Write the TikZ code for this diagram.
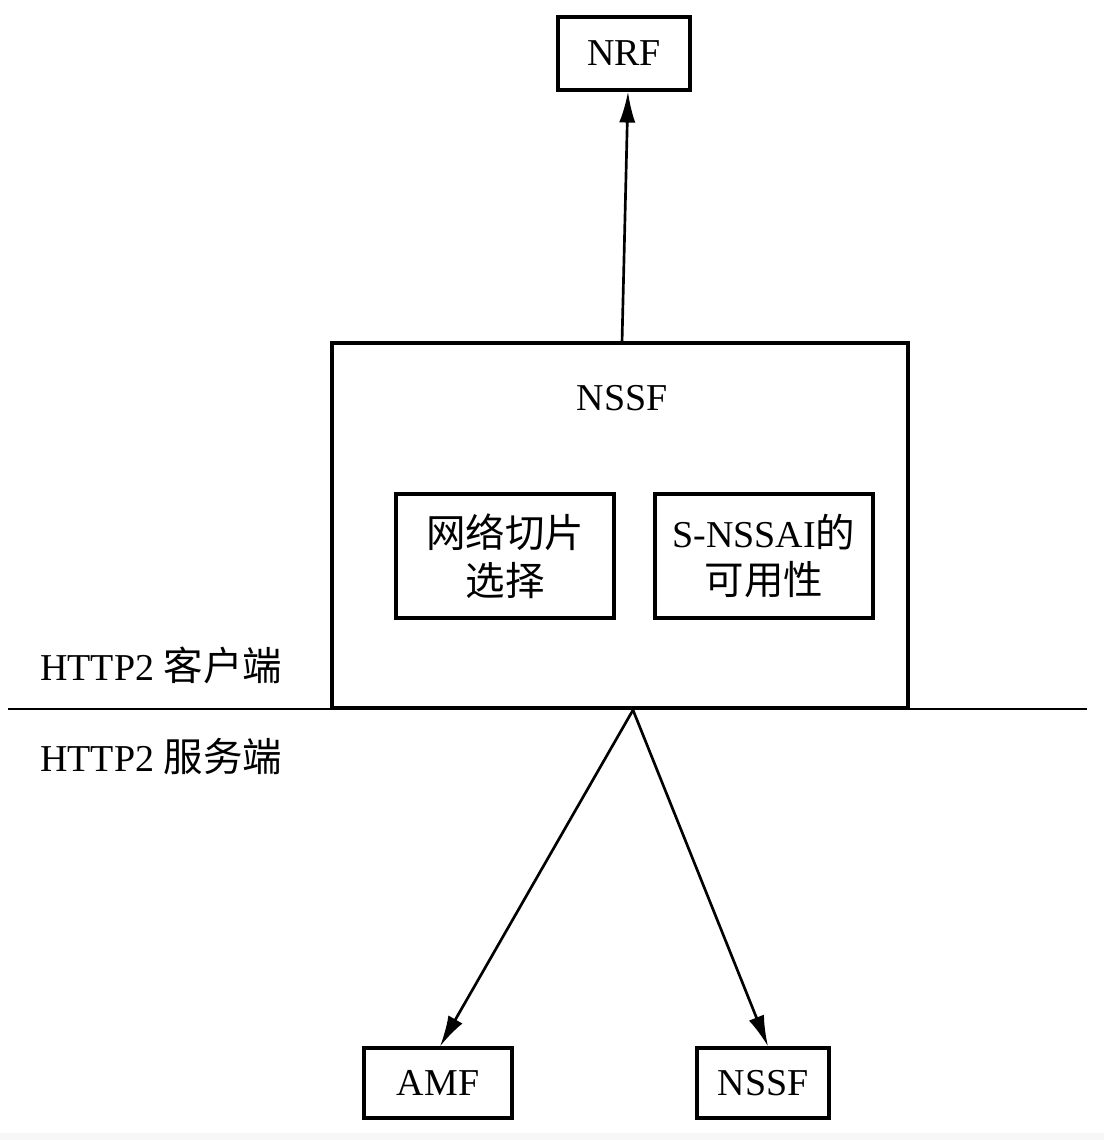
\documentclass[tikz,border=0pt]{standalone}
\usepackage{fontspec}
\setmainfont{Liberation Serif}
\newfontfamily\cjk{Noto Sans CJK SC}[Scale=1.04]
\usetikzlibrary{arrows.meta,calc}
\begin{document}
\begin{tikzpicture}[x=0.025cm,y=-0.025cm,
  box/.style={draw,line width=2.3pt,inner sep=0pt,align=center,font=\fontsize{27}{34}\selectfont},
  arr/.style={line width=1.9pt,-{Latex[length=22pt,width=11.5pt]}},
  lbl/.style={inner sep=0pt,anchor=west,font=\fontsize{27}{34}\selectfont}]
\useasboundingbox (0,0) rectangle (1104,1140);
\fill[gray!6] (0,1133) rectangle (1104,1140);
\node[box,minimum width=3.3cm,minimum height=1.825cm] (nrf) at (624,53.5) {NRF};
\node[box,minimum width=14.4cm,minimum height=9.125cm] (big) at (620,525.5) {};
\node[inner sep=0pt,font=\fontsize{27}{34}\selectfont] (nssflbl) at (622,398) {NSSF};
\node[box,minimum width=5.45cm,minimum height=3.1cm] (sel) at (505,556) {\cjk 网络切片\\\cjk 选择};
\node[box,minimum width=5.45cm,minimum height=3.1cm] (avail) at (764,556) {S-NSSAI{\cjk 的}\\\cjk 可用性};
\coordinate (la) at (8,709);
\coordinate (lb) at (1087,709);
\draw[line width=2pt] (la) -- (lb);
\node[lbl] (cli) at (40,665) {HTTP2 {\cjk 客户端}};
\node[lbl] (srv) at (40,757) {HTTP2 {\cjk 服务端}};
\node[box,minimum width=3.7cm,minimum height=1.75cm] (amf) at (438,1083) {AMF};
\node[box,minimum width=3.3cm,minimum height=1.75cm] (nssf2) at (763,1083) {NSSF};
\coordinate (top) at (622,343);
\coordinate (conv) at (633,710);
\draw[arr] (top) -- ($(nrf.south)+(4,0)$);
\draw[arr] (conv) -- ($(amf.north)+(2,0)$);
\draw[arr] (conv) -- ($(nssf2.north)+(5,0)$);
\end{tikzpicture}
\end{document}
